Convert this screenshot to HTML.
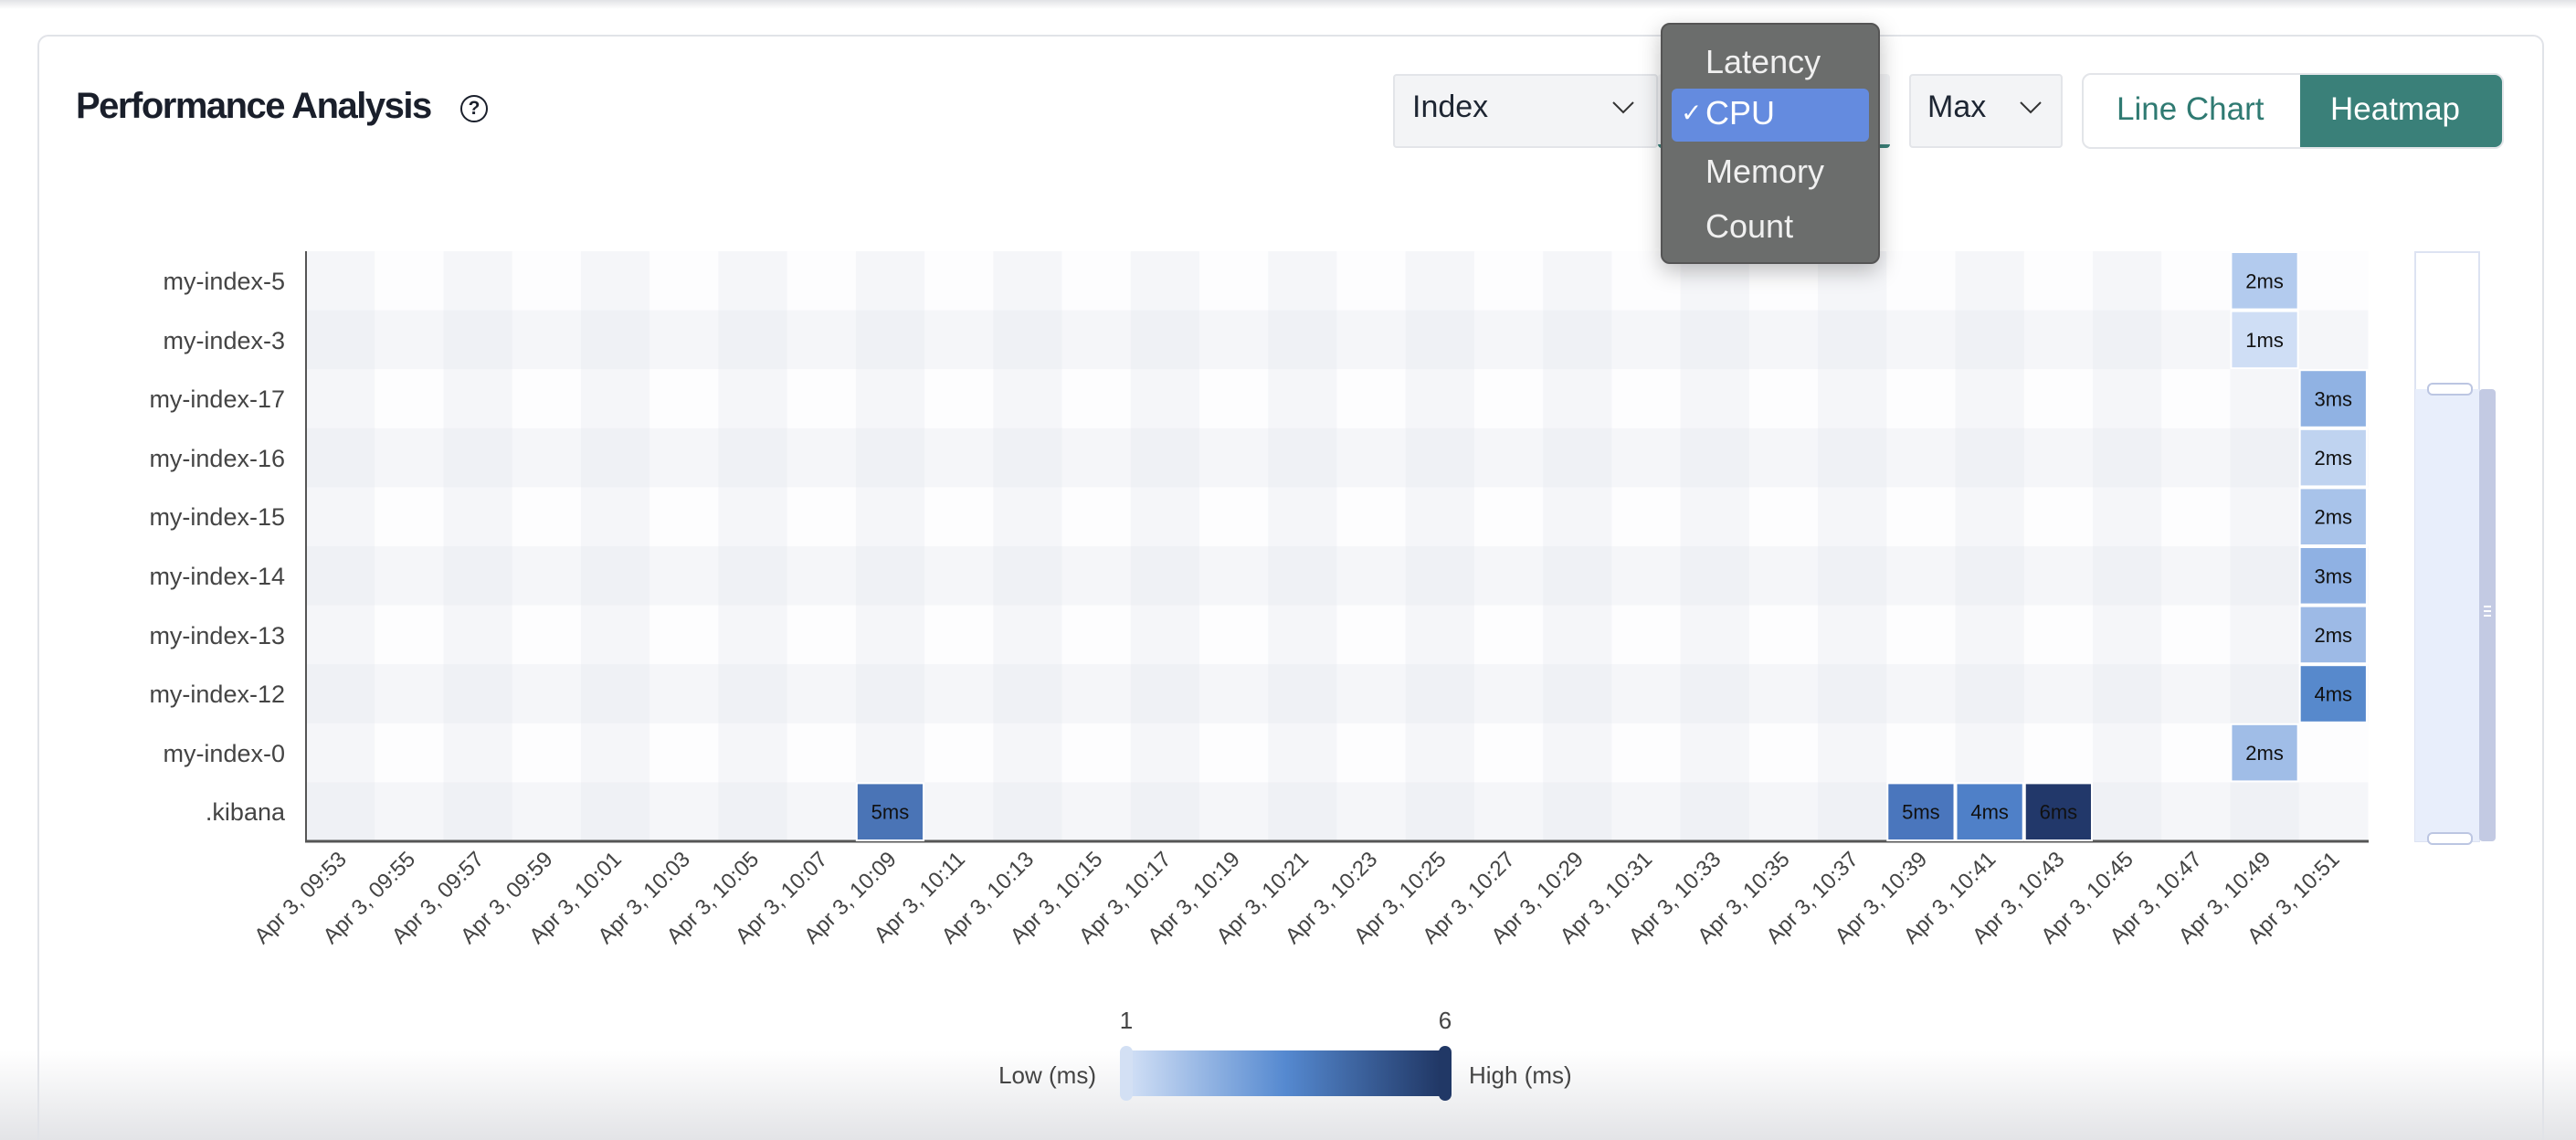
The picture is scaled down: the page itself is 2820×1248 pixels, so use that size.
<!DOCTYPE html>
<html><head><meta charset="utf-8"><style>
html,body{margin:0;padding:0;width:2820px;height:1248px;overflow:hidden;background:#fff;font-family:"Liberation Sans",sans-serif;}
#wrap{position:relative;width:2820px;height:1248px;overflow:hidden;}
.abs{position:absolute;}
</style></head><body><div id="wrap">
<div class="abs" style="left:0;top:0;width:2820px;height:10px;background:linear-gradient(#e2e3e6,#fff);"></div>
<div class="abs" style="left:0;top:1150px;width:2820px;height:98px;background:linear-gradient(rgba(255,255,255,0),#e3e4e7);"></div>
<div class="abs" style="left:41px;top:38px;width:2740px;height:1240px;border:2px solid #e1e3e8;border-radius:12px;"></div>

<svg class="abs" style="left:0;top:0;" width="2820" height="1248" xmlns="http://www.w3.org/2000/svg" font-family="Liberation Sans, sans-serif">
<g id="bg"></g>
<line x1="335" y1="275" x2="335" y2="922" stroke="#555" stroke-width="2"/>
<line x1="334" y1="921" x2="2593" y2="921" stroke="#555" stroke-width="3"/>
<g font-size="27" fill="#444" text-anchor="end">
<text x="312" y="317">my-index-5</text><text x="312" y="382">my-index-3</text><text x="312" y="446">my-index-17</text><text x="312" y="511">my-index-16</text><text x="312" y="575">my-index-15</text><text x="312" y="640">my-index-14</text><text x="312" y="705">my-index-13</text><text x="312" y="769">my-index-12</text><text x="312" y="834">my-index-0</text><text x="312" y="898">.kibana</text>
</g>
<g id="cells"></g>
<g id="xl" font-size="24" fill="#444" text-anchor="end"></g>
<rect x="2644" y="276" width="70" height="645" fill="#fff" stroke="#dde3f2" stroke-width="2"/>
<rect x="2644" y="426" width="70" height="495" fill="#e8eefb"/>
<rect x="2714" y="426" width="18" height="495" rx="4" fill="#c3cae3"/>
<g stroke="#fff" stroke-width="2"><line x1="2719" y1="664" x2="2727" y2="664"/><line x1="2719" y1="669" x2="2727" y2="669"/><line x1="2719" y1="674" x2="2727" y2="674"/></g>
<rect x="2658" y="420" width="48" height="12" rx="5" fill="#fff" stroke="#bcc6e2" stroke-width="2"/>
<rect x="2658" y="912" width="48" height="12" rx="5" fill="#fff" stroke="#bcc6e2" stroke-width="2"/>
<defs><linearGradient id="lg" x1="0" x2="1"><stop offset="0" stop-color="#cfdef5"/><stop offset="0.5" stop-color="#5589d0"/><stop offset="1" stop-color="#213866"/></linearGradient></defs>
<rect x="1238" y="1150" width="338" height="50" fill="url(#lg)"/>
<rect x="1226" y="1145" width="14" height="60" rx="7" fill="#d3e0f4"/>
<rect x="1575" y="1145" width="14" height="60" rx="7" fill="#213866"/>
<text x="1233" y="1126" font-size="26" fill="#444" text-anchor="middle">1</text>
<text x="1582" y="1126" font-size="26" fill="#444" text-anchor="middle">6</text>
<text x="1200" y="1186" font-size="26" fill="#444" text-anchor="end">Low (ms)</text>
<text x="1608" y="1186" font-size="26" fill="#444">High (ms)</text>
</svg>

<div class="abs" style="left:83px;top:94px;font-size:40px;font-weight:bold;color:#1a1f2b;letter-spacing:-1.5px;">Performance Analysis</div>
<div class="abs" style="left:504px;top:104px;width:26px;height:26px;border:2.5px solid #1a1f2b;border-radius:50%;font-size:21px;font-weight:bold;text-align:center;line-height:26px;color:#1a1f2b;">?</div>

<div class="abs" style="left:1525px;top:81px;width:286px;height:77px;background:#f3f4f6;border:2px solid #e3e5e9;border-radius:4px;"></div>
<div class="abs" style="left:1546px;top:98px;font-size:34px;color:#1e2633;">Index</div>
<svg class="abs" style="left:1764px;top:110px" width="26" height="16"><polyline points="2,2 13,13 24,2" fill="none" stroke="#333" stroke-width="2"/></svg>
<div class="abs" style="left:1815px;top:81px;width:254px;height:77px;background:#f3f4f6;border-bottom:4px solid #3a8079;border-radius:4px;"></div>
<div class="abs" style="left:2090px;top:81px;width:164px;height:77px;background:#f3f4f6;border:2px solid #e3e5e9;border-radius:4px;"></div>
<div class="abs" style="left:2110px;top:98px;font-size:34px;color:#1e2633;">Max</div>
<svg class="abs" style="left:2210px;top:110px" width="26" height="16"><polyline points="2,2 13,13 24,2" fill="none" stroke="#333" stroke-width="2"/></svg>
<div class="abs" style="left:2279px;top:80px;width:458px;height:79px;border:2px solid #e3e5e9;border-radius:10px;overflow:hidden;background:#fff;">
 <div class="abs" style="left:237px;top:0;width:221px;height:79px;background:#3a8079;"></div>
 <div class="abs" style="left:36px;top:18px;font-size:35px;color:#2f7a72;">Line Chart</div>
 <div class="abs" style="left:270px;top:18px;font-size:35px;color:#fff;">Heatmap</div>
</div>

<div class="abs" style="left:1818px;top:25px;width:236px;height:260px;background:#6b6d6c;border:2px solid #555;border-radius:10px;box-shadow:0 8px 24px rgba(0,0,0,0.25);z-index:5;">
 <div class="abs" style="left:10px;top:70px;width:216px;height:58px;background:#648bdf;border-radius:6px;"></div>
 <div class="abs" style="left:47px;top:20px;font-size:36px;color:#f0f0f0;">Latency</div>
 <div class="abs" style="left:20px;top:80px;font-size:28px;color:#fff;">&#x2713;</div>
 <div class="abs" style="left:47px;top:76px;font-size:36px;color:#fff;">CPU</div>
 <div class="abs" style="left:47px;top:140px;font-size:36px;color:#f0f0f0;">Memory</div>
 <div class="abs" style="left:47px;top:200px;font-size:36px;color:#f0f0f0;">Count</div>
</div>
</div>
<script>
var ns="http://www.w3.org/2000/svg",L=335,T=275,CW=75.23,RH=64.6;
var bg=document.getElementById('bg'),cells=document.getElementById('cells'),xl=document.getElementById('xl');
function el(p,t,a,txt){var e=document.createElementNS(ns,t);for(var k in a)e.setAttribute(k,a[k]);if(txt)e.textContent=txt;p.appendChild(e);return e;}
for(var r=0;r<10;r++)for(var c=0;c<30;c++){var sc=c%2==0,sr=r%2==1;var col=sc&&sr?'#eff1f5':(sc||sr?'#f5f6f9':'#fdfdfe');
el(bg,'rect',{x:L+c*CW,y:T+r*RH,width:CW+0.6,height:RH+0.6,fill:col});}
var d=[[0,28,'#b3cbee','2ms'],[1,28,'#cfdef5','1ms'],[2,29,'#90b2e3','3ms'],[3,29,'#bfd3f0','2ms'],[4,29,'#a8c3ea','2ms'],[5,29,'#8fb1e3','3ms'],[6,29,'#9dbae6','2ms'],[7,29,'#5789cc','4ms'],[8,28,'#a0bde7','2ms'],[9,8,'#4a74b6','5ms'],[9,23,'#4a76bd','5ms'],[9,24,'#4f80c8','4ms'],[9,25,'#22386a','6ms']];
d.forEach(function(v){var x=L+v[1]*CW,y=T+v[0]*RH;el(cells,'rect',{x:x+1,y:y+1,width:CW-2,height:RH-2,fill:v[2],stroke:'#fff','stroke-width':2});
el(cells,'text',{x:x+CW/2,y:y+RH/2+8,'font-size':22,'text-anchor':'middle',fill:'#111'},v[3]);});
for(var c=0;c<30;c++){var m=53+2*c,h=9+Math.floor(m/60);m=m%60;var s='Apr 3, '+(h<10?'0':'')+h+':'+(m<10?'0':'')+m;
var x=L+c*CW+CW/2+8,y=942;el(xl,'text',{x:x,y:y,transform:'rotate(-45 '+x+' '+y+')'},s);}
</script>
</body></html>
